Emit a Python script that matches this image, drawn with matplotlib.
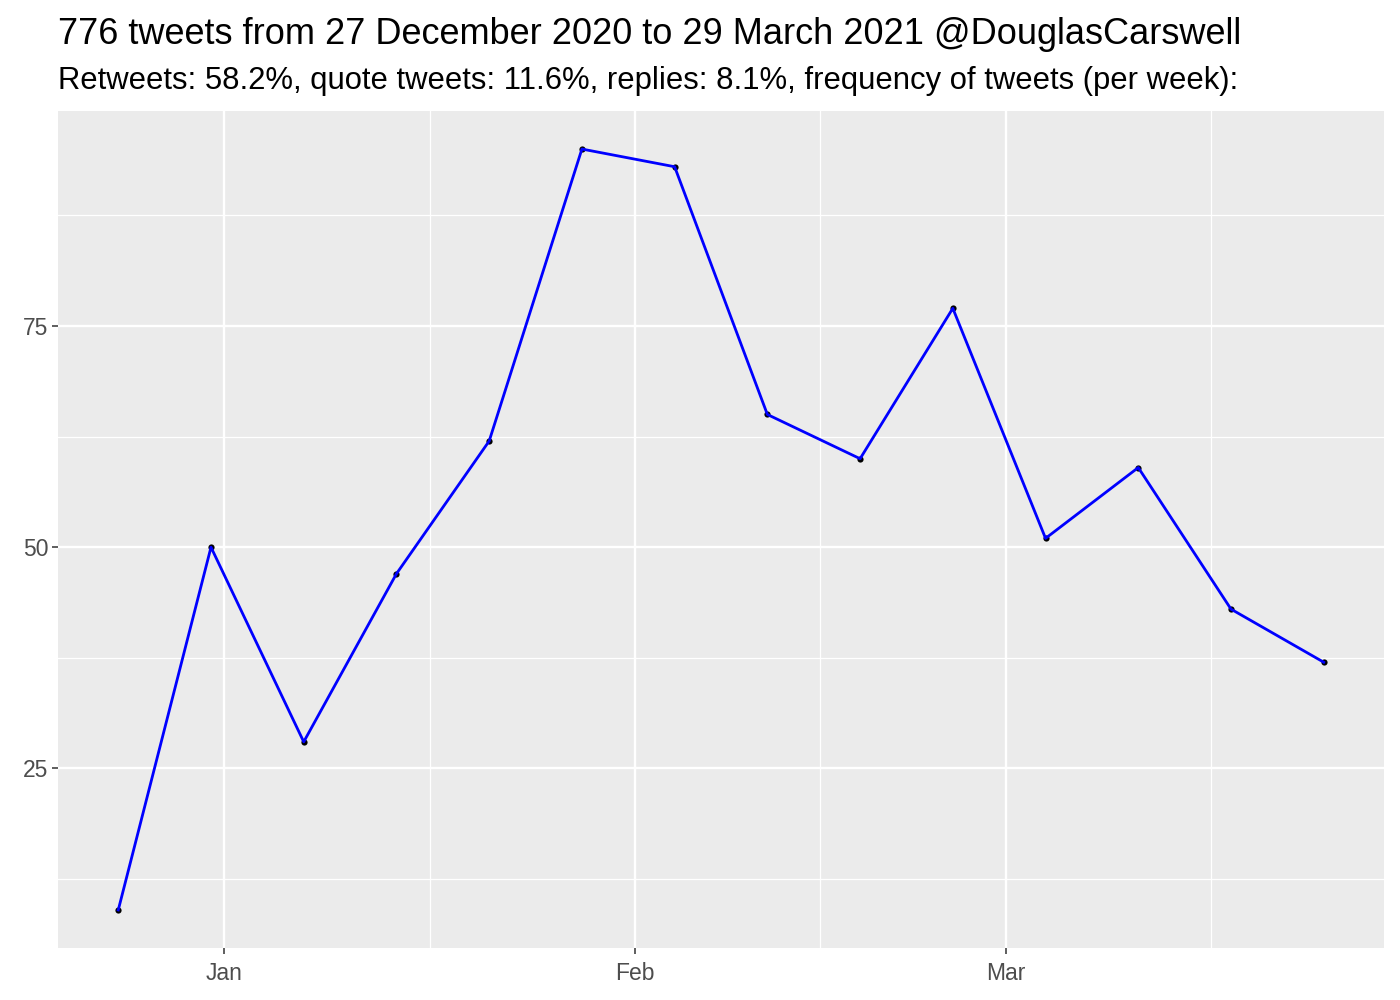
import numpy as np
import pandas as pd
import matplotlib
matplotlib.use('Agg')
import matplotlib.pyplot as plt
import matplotlib.dates as mdates

# weekly tweet counts
semanas = pd.date_range('2020-12-24', periods=14, freq='7D')
tweets = [9, 50, 28, 47, 62, 95, 93, 65, 60, 77, 51, 59, 43, 37]

titulo = '776 tweets from 27 December 2020 to 29 March 2021 @DouglasCarswell'
subtitulo = 'Retweets: 58.2%, quote tweets: 11.6%, replies: 8.1%, frequency of tweets (per week):'

plt.rcParams['font.family'] = ['Liberation Sans', 'DejaVu Sans']

fig = plt.figure(figsize=(14, 10), dpi=100)
ax = fig.add_axes([58 / 1400, 1 - 948 / 1000, (1384 - 58) / 1400, (948 - 111) / 1000])
ax.set_facecolor('#EBEBEB')

x = mdates.date2num(semanas)
ax.scatter(x, tweets, s=20, color='black', zorder=3, linewidths=0)
ax.plot(x, tweets, color='#0000FF', linewidth=2.0, zorder=4)

maiores = mdates.date2num(pd.to_datetime(['2021-01-01', '2021-02-01', '2021-03-01']))
menores = mdates.date2num(pd.to_datetime(['2020-12-16 12:00', '2021-01-16 12:00', '2021-02-15 00:00', '2021-03-16 12:00']))
ax.set_xticks(maiores)
ax.set_xticklabels(['Jan', 'Feb', 'Mar'])
ax.set_xticks(menores, minor=True)
ax.set_yticks([25, 50, 75])
ax.set_yticks([12.5, 37.5, 62.5, 87.5], minor=True)

# limites com 5% de expansao como no ggplot (depois dos ticks)
xr = x.max() - x.min()
ax.set_xlim(x.min() - 0.05 * xr, x.max() + 0.05 * xr)
yr = max(tweets) - min(tweets)
ax.set_ylim(min(tweets) - 0.05 * yr, max(tweets) + 0.05 * yr)

ax.grid(which='major', color='white', linewidth=1.7)
ax.grid(which='minor', color='white', linewidth=0.9)
ax.set_axisbelow(True)
for s in ax.spines.values():
    s.set_visible(False)
ax.tick_params(which='major', length=4, width=1.1, color='#333333', labelsize=16.5, labelcolor='#4D4D4D', pad=3)
ax.tick_params(axis='x', which='major', pad=6)
ax.tick_params(which='minor', length=0)

fig.text(58 / 1400, 1 - 34 / 1000, titulo, fontsize=26, va='center', ha='left')
fig.text(58 / 1400, 1 - 81 / 1000, subtitulo, fontsize=22.3, va='center', ha='left')

fig.savefig('out.png', dpi=100)
